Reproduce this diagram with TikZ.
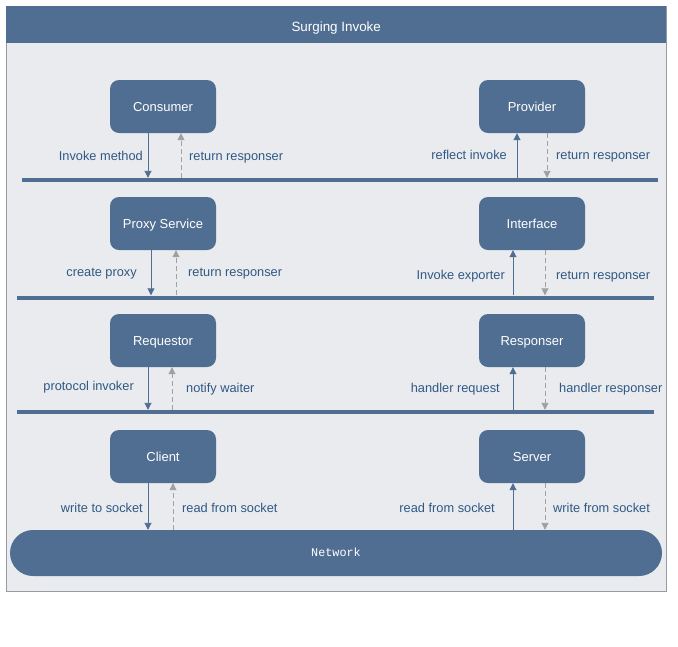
\documentclass[tikz,border=0pt]{standalone}
\usepackage{fontspec}
\setmainfont{Liberation Sans}
\newfontfamily\netfont{Liberation Mono}
\usetikzlibrary{arrows.meta}
\definecolor{boxblue}{RGB}{80,110,145}
\definecolor{bgfill}{RGB}{233,235,239}
\definecolor{framegray}{RGB}{150,155,162}
\definecolor{lblblue}{RGB}{48,88,132}
\definecolor{dashgray}{RGB}{160,160,160}
\tikzset{
  every node/.style={font=\fontsize{12.8}{15}\selectfont},
  svcbox/.style={draw=none,fill=boxblue,rounded corners=9pt,minimum width=106pt,minimum height=53pt,inner sep=0pt},
  boxtext/.style={text=white,inner sep=0pt,font=\fontsize{13}{15}\selectfont,text height=9.3pt,text depth=2.7pt},
  barline/.style={draw=none,fill=boxblue,minimum height=4pt,inner sep=0pt},
  solidarr/.style={draw=boxblue,line width=0.9pt,-{Triangle[width=7pt,length=7pt]}},
  dasharr/.style={draw=dashgray,line width=0.9pt,dash pattern=on 5pt off 3pt,-{Triangle[width=7pt,length=7pt]}},
  lbl/.style={text=lblblue,inner sep=0pt,yshift=-2.5pt,text height=9.2pt,text depth=2.7pt}
}
\begin{document}
\begin{tikzpicture}[x=1pt,y=-1pt]
\useasboundingbox (0,0) rectangle (678,646);
\fill[white] (0,0) rectangle (678,646);
\draw[framegray,fill=bgfill,line width=0.8pt] (6,6) rectangle (666,591);
\node[fill=boxblue,minimum width=660pt,minimum height=37pt,inner sep=0pt,anchor=north west] (title) at (6,6) {};
\node[boxtext,font=\fontsize{13.4}{15}\selectfont] (titletext) at ([yshift=-3pt]title.center) {Surging Invoke};

% boxes
\node[svcbox] (cons) at (163,106.5) {};
\node[svcbox] (prov) at (532,106.5) {};
\node[svcbox] (proxy) at (163,223.5) {};
\node[svcbox] (iface) at (532,223.5) {};
\node[svcbox] (req) at (163,340.5) {};
\node[svcbox] (resp) at (532,340.5) {};
\node[svcbox] (client) at (163,456.5) {};
\node[svcbox] (server) at (532,456.5) {};
\node[boxtext] (consT) at ([yshift=-1.5pt]cons.center) {Consumer};
\node[boxtext] (provT) at ([yshift=-1.5pt]prov.center) {Provider};
\node[boxtext] (proxyT) at ([yshift=-1.5pt]proxy.center) {Proxy Service};
\node[boxtext] (ifaceT) at ([yshift=-1.5pt]iface.center) {Interface};
\node[boxtext] (reqT) at ([yshift=-1.5pt]req.center) {Requestor};
\node[boxtext] (respT) at ([yshift=-1.5pt]resp.center) {Responser};
\node[boxtext] (clientT) at ([yshift=-1.5pt]client.center) {Client};
\node[boxtext] (serverT) at ([yshift=-1.5pt]server.center) {Server};

% bars
\node[barline,minimum width=636pt] (bar1) at (340,180) {};
\node[barline,minimum width=637pt] (bar2) at (335.5,297.5) {};
\node[barline,minimum width=637pt] (bar3) at (335.5,412) {};
\node[fill=boxblue,rounded corners=23pt,minimum width=652pt,minimum height=46pt,inner sep=0pt] (net) at (336,553) {};
\node[text=white,inner sep=0pt,font=\netfont\fontsize{11.8}{13}\selectfont,text height=8pt,text depth=2.5pt] (netT) at ([yshift=-1pt]net.center) {Network};

% row 1
\draw[solidarr] ([xshift=-15pt]cons.south) -- ([xshift=-15pt]cons.south |- bar1.north);
\draw[dasharr] ([xshift=18pt]cons.south |- bar1.north) -- ([xshift=18pt]cons.south);
\draw[solidarr] ([xshift=-15pt]prov.south |- bar1.north) -- ([xshift=-15pt]prov.south);
\draw[dasharr] ([xshift=15pt]prov.south) -- ([xshift=15pt]prov.south |- bar1.north);
\node[lbl,anchor=east] (l1a) at (143,155) {Invoke method};
\node[lbl,anchor=west] (l1b) at (189,155) {return responser};
\node[lbl,anchor=east] (l1c) at (507,154) {reflect invoke};
\node[lbl,anchor=west] (l1d) at (556,154) {return responser};

% row 2
\draw[solidarr] ([xshift=-12pt]proxy.south) -- ([xshift=-12pt]proxy.south |- bar2.north);
\draw[dasharr] ([xshift=13pt]proxy.south |- bar2.north) -- ([xshift=13pt]proxy.south);
\draw[solidarr] ([xshift=-19pt]iface.south |- bar2.north) -- ([xshift=-19pt]iface.south);
\draw[dasharr] ([xshift=13pt]iface.south) -- ([xshift=13pt]iface.south |- bar2.north);
\node[lbl,anchor=east] (l2a) at (137,271) {create proxy};
\node[lbl,anchor=west] (l2b) at (188,271) {return responser};
\node[lbl,anchor=east] (l2c) at (505,274) {Invoke exporter};
\node[lbl,anchor=west] (l2d) at (556,274) {return responser};

% row 3
\draw[solidarr] ([xshift=-15pt]req.south) -- ([xshift=-15pt]req.south |- bar3.north);
\draw[dasharr] ([xshift=9pt]req.south |- bar3.north) -- ([xshift=9pt]req.south);
\draw[solidarr] ([xshift=-19pt]resp.south |- bar3.north) -- ([xshift=-19pt]resp.south);
\draw[dasharr] ([xshift=13pt]resp.south) -- ([xshift=13pt]resp.south |- bar3.north);
\node[lbl,anchor=east] (l3a) at (134,385) {protocol invoker};
\node[lbl,anchor=west] (l3b) at (186,387) {notify waiter};
\node[lbl,anchor=east] (l3c) at (500,387) {handler request};
\node[lbl,anchor=west] (l3d) at (559,387) {handler responser};

% row 4
\draw[solidarr] ([xshift=-15pt]client.south) -- ([xshift=-15pt]client.south |- net.north);
\draw[dasharr] ([xshift=10pt]client.south |- net.north) -- ([xshift=10pt]client.south);
\draw[solidarr] ([xshift=-19pt]server.south |- net.north) -- ([xshift=-19pt]server.south);
\draw[dasharr] ([xshift=13pt]server.south) -- ([xshift=13pt]server.south |- net.north);
\node[lbl,anchor=east] (l4a) at (143,507) {write to socket};
\node[lbl,anchor=west] (l4b) at (182,507) {read from socket};
\node[lbl,anchor=east] (l4c) at (495,507) {read from socket};
\node[lbl,anchor=west] (l4d) at (553,507) {write from socket};
\end{tikzpicture}
\end{document}
